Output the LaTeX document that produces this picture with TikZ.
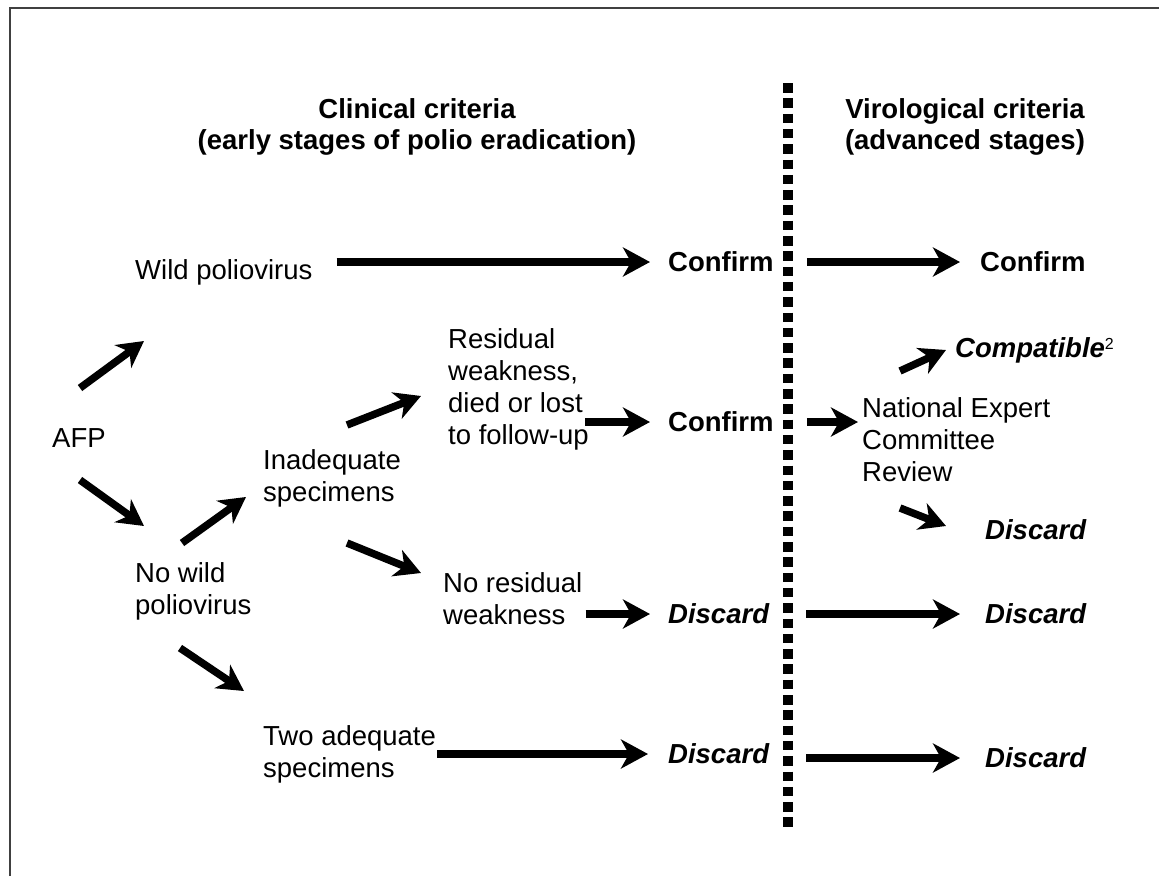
\documentclass[tikz,border=0pt]{standalone}
\usepackage{fontspec}
\setmainfont{Liberation Sans}
\usetikzlibrary{arrows.meta}
\begin{document}
\begin{tikzpicture}[x=1pt,y=-1pt,
  txt/.style={inner sep=0pt, anchor=west, align=left, font=\fontsize{27.5}{32}\selectfont},
  hdr/.style={inner sep=0pt, anchor=center, align=center, font=\fontsize{27.5}{31}\selectfont\bfseries},
  res/.style={txt, font=\fontsize{27.5}{32}\selectfont\bfseries},
  resi/.style={txt, font=\fontsize{27.5}{32}\selectfont\bfseries\itshape},
  arr/.style={line width=7.5pt, -{Stealth[length=27pt,width=29pt,inset=8pt]}},
  darr/.style={line width=7.5pt, -{Stealth[length=26pt,width=28pt,inset=8pt]}},
  frame/.style={line width=2pt, draw=black!75},
  divider/.style={line width=9.5pt, dash pattern=on 9.5pt off 5.8pt}]
\useasboundingbox (0,0) rectangle (1159,876);
\draw[frame] (10,876) -- (10,8) -- (1159,8);
\draw[divider] (788,83) -- (788,828);

% headers
\node[hdr] (hclin) at (417,127) {Clinical criteria\\(early stages of polio eradication)};
\node[hdr] (hviro) at (965,127) {Virological criteria\\(advanced stages)};

% text nodes
\node[txt] (afp) at (52,438) {AFP};
\node[txt] (wild) at (135,272) {Wild poliovirus};
\node[txt] (nowild) at (135,591) {No wild\\poliovirus};
\node[txt] (inad) at (263,478) {Inadequate\\specimens};
\node[txt] (two) at (263,754) {Two adequate\\specimens};
\node[txt] (resid) at (448,389) {Residual\\weakness,\\died or lost\\to follow-up};
\node[txt] (nores) at (443,599) {No residual\\weakness};
\node[txt] (nec) at (862,440) {National Expert\\Committee\\Review};

\node[res] (c1) at (668,262) {Confirm};
\node[res] (c2) at (668,422) {Confirm};
\node[res] (c1r) at (980,262) {Confirm};
\node[resi] (d2) at (668,614) {Discard};
\node[resi] (d3) at (668,754) {Discard};
\node[resi] (d1r) at (985,530) {Discard};
\node[resi] (d2r) at (985,614) {Discard};
\node[resi] (d3r) at (985,758) {Discard};
\node[resi] (compat) at (955,350) {Compatible\raisebox{8pt}{\fontsize{16}{16}\selectfont\mdseries\upshape 2}};

% horizontal arrows
\draw[arr, shorten <=24pt, shorten >=18pt] (wild.east |- c1.west) -- (c1.west);
\draw[arr, shorten <=33pt, shorten >=20pt] (c1.east) -- (c1r.west);
\draw[arr, shorten <=-4pt, shorten >=18pt] (resid.east |- c2.west) -- (c2.west);
\draw[arr, shorten <=33pt, shorten >=4pt] (c2.east) -- (nec.west |- c2.east);
\draw[arr, shorten <=3pt, shorten >=18pt] (nores.east |- d2.west) -- (d2.west);
\draw[arr, shorten <=37pt, shorten >=25pt] (d2.east) -- (d2r.west);
\draw[arr, shorten <=1pt, shorten >=20pt] (two.east |- d3.west) -- (d3.west);
\draw[arr, shorten <=37pt, shorten >=25pt] (d3.east |- d3r.west) -- (d3r.west);

% diagonal arrows
\coordinate (afpU0) at (80,388);  \coordinate (afpU1) at (144,341);
\coordinate (afpD0) at (80,480);  \coordinate (afpD1) at (144,526);
\coordinate (nwU0) at (182,543);  \coordinate (nwU1) at (246,497);
\coordinate (nwD0) at (180,648);  \coordinate (nwD1) at (244,691);
\coordinate (inU0) at (347,425);  \coordinate (inU1) at (421,396);
\coordinate (inD0) at (347,543);  \coordinate (inD1) at (421,573);
\coordinate (neU0) at (900,371);  \coordinate (neU1) at (946,350);
\coordinate (neD0) at (900,508);  \coordinate (neD1) at (946,526);
\draw[darr] (afpU0) -- (afpU1);
\draw[darr] (afpD0) -- (afpD1);
\draw[darr] (nwU0) -- (nwU1);
\draw[darr] (nwD0) -- (nwD1);
\draw[darr] (inU0) -- (inU1);
\draw[darr] (inD0) -- (inD1);
\draw[darr] (neU0) -- (neU1);
\draw[darr] (neD0) -- (neD1);
\end{tikzpicture}
\end{document}
